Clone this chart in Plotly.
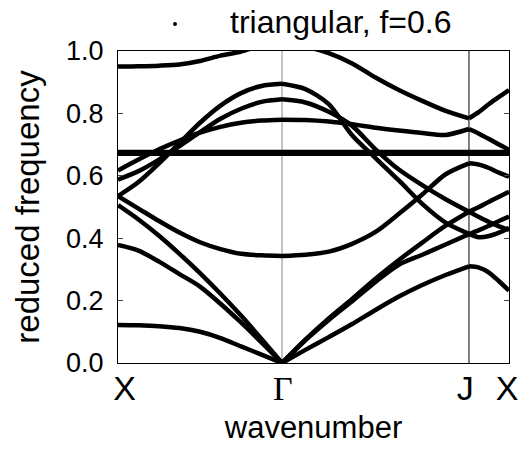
import plotly.graph_objects as go

# path coordinate of each sample: X -> Gamma -> J -> X
k_path = [0.0, 0.125, 0.25, 0.375, 0.5, 0.625, 0.75, 0.875, 1.0,
          1.1425, 1.285, 1.4275, 1.57, 1.7125, 1.855, 1.9975, 2.14,
          2.201, 2.262, 2.323, 2.384]
seg_breaks = [8, 16]  # indices of Gamma and J

tick_vals = [0.04, 1.005, 2.118, 2.372]
tick_text = ["X", '<span style="font-family:Liberation Serif">Γ</span>', "J", "X"]

band_a = [0.122, 0.121, 0.118, 0.112, 0.100, 0.080, 0.053, 0.027, 0.0,
          0.042, 0.083, 0.125, 0.170, 0.213, 0.250, 0.282, 0.310,
          0.306, 0.290, 0.262, 0.232]
band_b = [0.378, 0.360, 0.325, 0.285, 0.245, 0.190, 0.130, 0.066, 0.0,
          0.073, 0.138, 0.198, 0.260, 0.315, 0.347, 0.380, 0.413,
          0.426, 0.440, 0.455, 0.469]
band_c = [0.506, 0.460, 0.408, 0.350, 0.288, 0.222, 0.152, 0.077, 0.0,
          0.075, 0.143, 0.205, 0.270, 0.330, 0.386, 0.440, 0.485,
          0.500, 0.517, 0.533, 0.549]
band_d = [0.535, 0.495, 0.455, 0.418, 0.387, 0.365, 0.350, 0.345, 0.343,
          0.347, 0.357, 0.382, 0.420, 0.478, 0.540, 0.605, 0.640,
          0.636, 0.625, 0.610, 0.597]
band_e = [0.671] * 21
band_f = [0.676] * 21
band_g = [0.617, 0.652, 0.685, 0.713, 0.738, 0.757, 0.770, 0.777, 0.780,
          0.779, 0.774, 0.765, 0.754, 0.745, 0.737, 0.731, 0.750,
          0.735, 0.718, 0.700, 0.683]
band_h = [0.588, 0.615, 0.652, 0.695, 0.740, 0.783, 0.815, 0.837, 0.845,
          0.835, 0.805, 0.760, 0.685, 0.620, 0.570, 0.525, 0.485,
          0.468, 0.452, 0.438, 0.427]
band_i = [0.535, 0.580, 0.640, 0.705, 0.770, 0.825, 0.865, 0.888, 0.895,
          0.878, 0.830, 0.730, 0.657, 0.585, 0.510, 0.450, 0.414,
          0.403, 0.407, 0.418, 0.433]
band_j = [0.950, 0.951, 0.953, 0.957, 0.968, 0.985, 0.998, 1.020, 1.040,
          1.015, 0.993, 0.960, 0.915, 0.875, 0.840, 0.808, 0.784,
          0.805, 0.830, 0.853, 0.875]

bands = [band_a, band_b, band_c, band_d, band_e, band_f,
         band_g, band_h, band_i, band_j]

fig = go.Figure()
segments = [(0, seg_breaks[0]), (seg_breaks[0], seg_breaks[1]), (seg_breaks[1], len(k_path) - 1)]
for b in bands:
    for s, e in segments:
        fig.add_trace(go.Scatter(
            x=k_path[s:e + 1], y=b[s:e + 1], mode="lines",
            line=dict(color="black", width=4.5, shape="spline", smoothing=0.8),
            showlegend=False, hoverinfo="skip"))

FONT = "Liberation Sans, Arial, sans-serif"

fig.update_layout(
    width=518, height=451,
    margin=dict(l=118, r=9, t=51, b=88, autoexpand=False),
    paper_bgcolor="white", plot_bgcolor="white",
    font=dict(family=FONT, color="black"),
    xaxis=dict(range=[0, 2.384], tickvals=tick_vals, ticktext=tick_text,
               ticks="", showgrid=False, zeroline=False, automargin=False,
               showline=True, linecolor="black", linewidth=1, mirror=True,
               tickfont=dict(size=34), ticklabelstandoff=-5,
               ticklabeloverflow="allow",
               title=dict(text="wavenumber", font=dict(size=31), standoff=10)),
    yaxis=dict(range=[0, 1.0], tickvals=[0, 0.2, 0.4, 0.6, 0.8, 1.0],
               tickformat=".1f", ticks="inside", ticklen=5, tickcolor="#444",
               showgrid=False, zeroline=False, automargin=False,
               showline=True, linecolor="black", linewidth=1, mirror="ticks",
               tickfont=dict(size=27), ticklabelstandoff=8,
               title=dict(text="reduced frequency", font=dict(size=33), standoff=16)),
    shapes=[
        dict(type="line", xref="x", yref="y", x0=1.0, x1=1.0, y0=0, y1=1,
             line=dict(color="#888888", width=1), layer="below"),
        dict(type="line", xref="x", yref="y", x0=2.14, x1=2.14, y0=0, y1=1,
             line=dict(color="black", width=1), layer="below"),
        dict(type="circle", xref="paper", yref="paper",
             xsizemode="pixel", ysizemode="pixel",
             xanchor=(175 - 118) / 391, yanchor=(363 - 24) / 312,
             x0=-2, x1=2, y0=-2, y1=2,
             fillcolor="black", line=dict(color="black", width=0)),
    ],
    annotations=[
        dict(text="triangular, f=0.6", xref="paper", yref="paper",
             x=(340 - 118) / 391, y=(363 - 22) / 312,
             xanchor="center", yanchor="middle", showarrow=False,
             font=dict(size=32, family=FONT)),
    ],
)

fig.write_html("out.html")
